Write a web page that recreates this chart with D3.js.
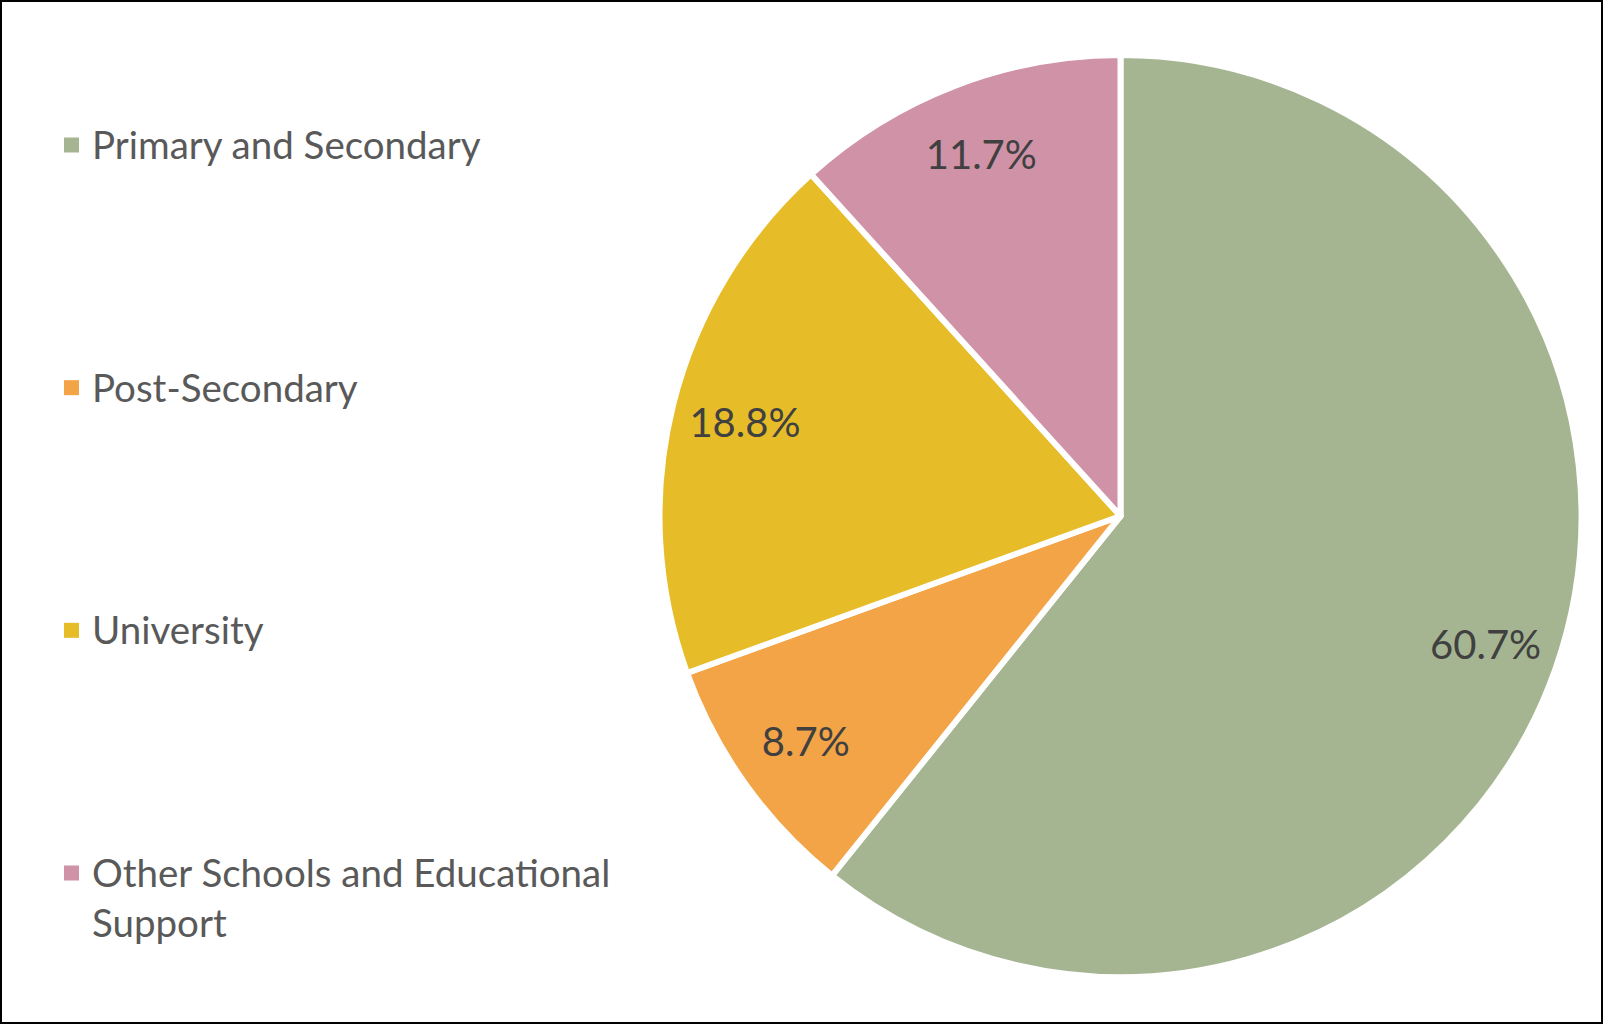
<!DOCTYPE html>
<html>
<head>
<meta charset="utf-8">
<script src="https://cdn.jsdelivr.net/npm/d3@7"></script>
<style>
  html, body { margin: 0; padding: 0; background: #fff; }
  svg { display: block; }
</style>
</head>
<body>
<svg id="chart" width="1603" height="1024"></svg>
<script>
const categories = ["Primary and Secondary", "Post-Secondary", "University", "Other Schools and Educational Support"];
const legendLines = [["Primary and Secondary"], ["Post-Secondary"], ["University"], ["Other Schools and Educational", "Support"]];
const values = [60.7, 8.7, 18.8, 11.7];
const labels = ["60.7%", "8.7%", "18.8%", "11.7%"];
const colors = ["#A5B592", "#F3A447", "#E7BC29", "#D092A7"];

const W = 1603, H = 1024;
const svg = d3.select("#chart");
const font = "Lato, 'Open Sans', sans-serif";

svg.append("rect").attr("x", 1).attr("y", 1).attr("width", W - 2).attr("height", H - 2)
  .attr("fill", "#fff").attr("stroke", "#000").attr("stroke-width", 2);

const cx = 1120.5, cy = 516, R = 461, labelR = 387;
const pie = d3.pie().sort(null).value(d => d)(values);
const arc = d3.arc().innerRadius(0).outerRadius(R);
const labelArc = d3.arc().innerRadius(labelR).outerRadius(labelR);

const g = svg.append("g").attr("transform", `translate(${cx},${cy})`);
g.selectAll("path").data(pie).enter().append("path")
  .attr("d", arc)
  .attr("fill", (d, i) => colors[i])
  .attr("stroke", "#fff").attr("stroke-width", 6).attr("stroke-linejoin", "round");

g.selectAll("text.lbl").data(pie).enter().append("text")
  .attr("class", "lbl")
  .attr("transform", d => `translate(${labelArc.centroid(d)})`)
  .attr("text-anchor", "middle").attr("dy", "0.36em")
  .attr("font-family", font).attr("font-size", 40).attr("fill", "#404040")
  .text((d, i) => labels[i]);

const legendY = d3.scalePoint().domain(categories).range([145, 873]);
const lg = svg.append("g");
categories.forEach((c, i) => {
  const y = legendY(c);
  lg.append("rect").attr("x", 64).attr("y", y - 7.5).attr("width", 15).attr("height", 15).attr("fill", colors[i]);
  const t = lg.append("text").attr("x", 92).attr("y", y)
    .attr("font-family", font).attr("font-size", 38.5).attr("fill", "#595959");
  legendLines[i].forEach((ln, j) => {
    t.append("tspan").attr("x", 92).attr("dy", j === 0 ? "0.36em" : 50).text(ln);
  });
});
</script>
</body>
</html>
